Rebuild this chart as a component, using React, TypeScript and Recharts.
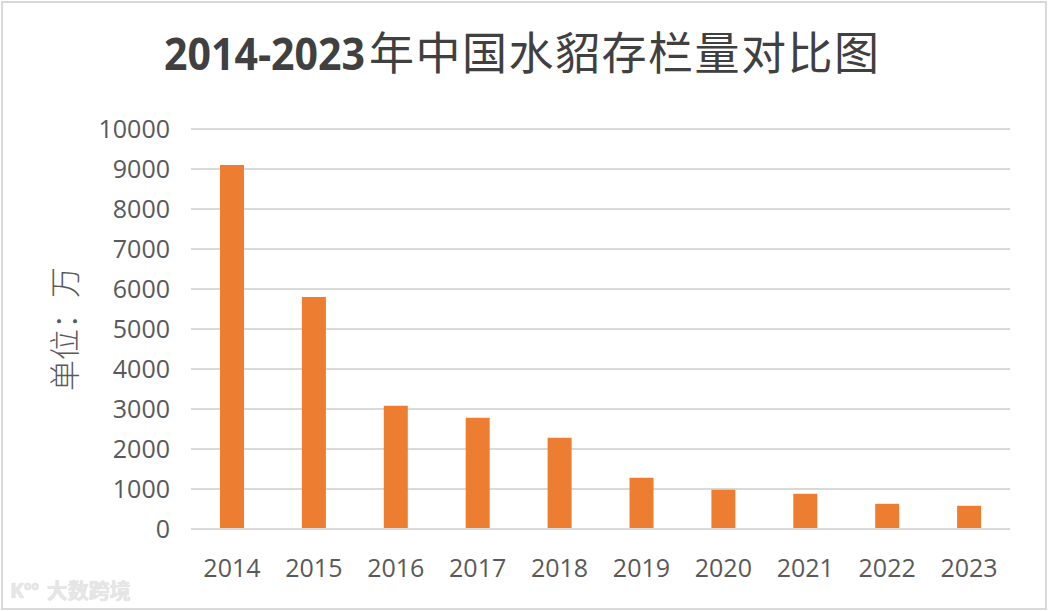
import React from 'react';
import { BarChart, Bar, XAxis, YAxis, CartesianGrid } from 'recharts';

const years = ['2014', '2015', '2016', '2017', '2018', '2019', '2020', '2021', '2022', '2023'];
const stock = [9100, 5800, 3080, 2780, 2280, 1280, 980, 880, 630, 580];
const yTicks = [0, 1000, 2000, 3000, 4000, 5000, 6000, 7000, 8000, 9000, 10000];
const titleYears = '2014-2023';
const titleText = '年中国水貂存栏量对比图';
const yLabel = '单位：万';
const watermark = '大数跨境';

const data = years.map((y, i) => ({ year: y, value: stock[i] }));

const tickStyle = { fill: '#595959', fontSize: 25, fontFamily: '"Open Sans", sans-serif' };

export default function App() {
  return (
    <div style={{ position: 'absolute', left: 0, top: 0, width: 1048, height: 611, background: '#fff', overflow: 'hidden' }}>
      <BarChart
        width={1048}
        height={611}
        data={data}
        margin={{ top: 129, right: 38, bottom: 32, left: 71 }}
        barCategoryGap={0}
      >
        <CartesianGrid vertical={false} stroke="#d9d9d9" strokeWidth={2} />
        <XAxis
          dataKey="year"
          height={50}
          stroke="#d9d9d9"
          strokeWidth={2}
          tickLine={false}
          tickSize={0}
          tickMargin={30}
          tick={tickStyle}
          interval={0}
        />
        <YAxis
          width={120}
          domain={[0, 10000]}
          ticks={yTicks}
          interval={0}
          axisLine={false}
          tickLine={false}
          tickSize={0}
          tickMargin={21}
          tick={tickStyle}
        />
        <Bar dataKey="value" fill="#ed7d31" barSize={24} isAnimationActive={false} />
      </BarChart>
      <svg width={1048} height={611} style={{ position: 'absolute', left: 0, top: 0, pointerEvents: 'none' }}>
        <text
          x={164}
          y={70}
          fill="#404040"
          fontFamily='"Open Sans", sans-serif'
          fontWeight={700}
          fontSize={45}
          textLength={201}
          lengthAdjust="spacingAndGlyphs"
        >
          {titleYears}
        </text>
        <text
          x={369}
          y={70}
          fill="#404040"
          fontFamily='"Noto Sans CJK SC", sans-serif'
          fontWeight={400}
          fontSize={45}
          textLength={510}
          lengthAdjust="spacing"
        >
          {titleText}
        </text>
        <text
          transform="translate(62, 329) rotate(-90)"
          textAnchor="middle"
          dominantBaseline="central"
          fill="#595959"
          fontFamily='"Noto Sans CJK SC", sans-serif'
          fontWeight={300}
          fontSize={31}
        >
          {yLabel}
        </text>
      </svg>
      <div
        style={{
          position: 'absolute', left: 10, top: 574, color: '#e6e6e6', fontFamily: '"Noto Sans CJK SC", sans-serif',
          fontSize: 21, whiteSpace: 'nowrap', textShadow: '0 0 1px #cfcfcf', fontWeight: 700,
        }}
      >
        <span style={{ fontFamily: '"Open Sans", sans-serif', marginRight: 8 }}>K<sup style={{ fontSize: 12 }}>oo</sup></span>
        {watermark}
      </div>
      <div
        style={{
          position: 'absolute', left: 1, top: 1, width: 1046, height: 609, boxSizing: 'border-box',
          border: '2px solid #d9d9d9', pointerEvents: 'none',
        }}
      />
    </div>
  );
}
